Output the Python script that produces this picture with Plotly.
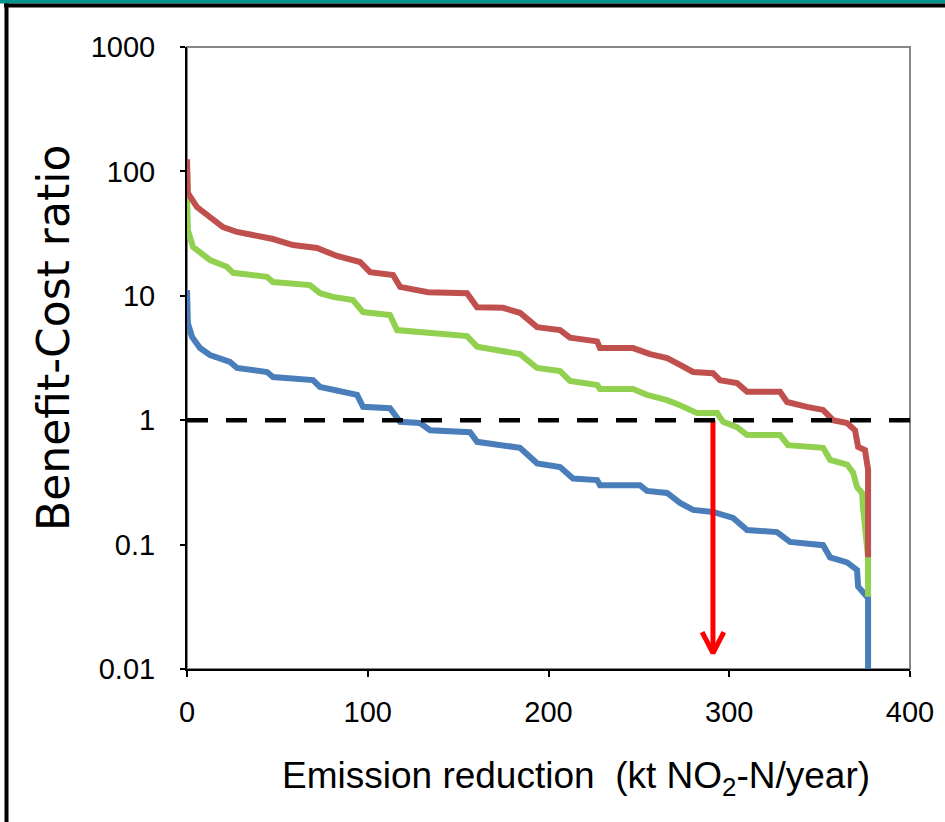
import plotly.graph_objects as go

# ---------------- data ----------------
red_x = [0, 0.5, 5.5, 12.7, 19.9, 27.7, 36.5, 47.6, 58.6, 71.9, 83, 95.7, 101.3, 114, 117.9,
         133.3, 154.9, 160.5, 174.8, 184.2, 193.7, 206.4, 211.9, 226.9, 228.5, 246.8, 256.2,
         265.6, 272.8, 280, 291, 294.9, 304.3, 309.9, 328.1, 332, 343, 351.9, 357.4, 365.2,
         369.6, 371.3, 375.1, 376.8, 376.8]
red_y = [125, 67, 51.7, 43, 35.7, 32.6, 30.8, 28.6, 25.6, 24.2, 20.9, 18.7, 15.5, 14.7, 11.8,
         10.7, 10.5, 8.1, 8.0, 7.3, 5.6, 5.3, 4.6, 4.3, 3.8, 3.8, 3.4,
         3.16, 2.78, 2.44, 2.39, 2.1, 1.99, 1.69, 1.69, 1.40, 1.28, 1.21, 1.0, 0.95,
         0.83, 0.61, 0.575, 0.40, 0.079]

green_x = [0, 0.5, 3.3, 12.7, 22.1, 25.5, 44.3, 47.6, 68, 73.6, 80.8, 91.8, 97.4, 112.3, 116.2,
           133.3, 154.9, 160.5, 171.5, 184.2, 193.7, 206.4, 211.9, 226.9, 228.5, 246.8, 254.5,
           265.6, 272.8, 282.2, 293.3, 296.6, 304.3, 309.9, 328.1, 332.5, 351.9, 355.8, 365.2,
           368.5, 370.7, 373.5, 374, 376.8, 376.8]
green_y = [65, 33.8, 24.7, 19.4, 17.1, 15.3, 14.2, 12.9, 12.2, 10.5, 9.8, 9.25, 7.4, 7.0, 5.3,
           5.0, 4.75, 3.9, 3.66, 3.4, 2.63, 2.48, 2.07, 1.92, 1.78, 1.78, 1.60,
           1.45, 1.32, 1.14, 1.14, 0.97, 0.88, 0.76, 0.76, 0.63, 0.60, 0.48, 0.44,
           0.38, 0.29, 0.26, 0.20, 0.079, 0.038]

blue_x = [0, 0.5, 2.8, 7.2, 12.7, 23.8, 27.7, 44.3, 47.6, 69.7, 73.6, 80.8, 94.1, 97.4, 112.3,
          117.9, 128.9, 134.5, 156.6, 160.5, 173.2, 184.2, 193.7, 206.4, 213.6, 226.9, 228.5,
          250.6, 254.5, 265.6, 272.8, 280, 291, 302.1, 309.9, 326.4, 333.6, 351.9, 355.8,
          365.2, 370.7, 371.3, 376.2, 376.8, 376.8]
blue_y = [11.1, 6.0, 4.67, 3.8, 3.34, 2.94, 2.63, 2.44, 2.22, 2.10, 1.85, 1.75, 1.60, 1.28, 1.25,
          0.97, 0.95, 0.83, 0.80, 0.67, 0.63, 0.60, 0.45, 0.42, 0.34, 0.33, 0.30,
          0.30, 0.27, 0.26, 0.216, 0.19, 0.183, 0.164, 0.131, 0.126, 0.105, 0.099, 0.079,
          0.072, 0.0625, 0.046, 0.038, 0.038, 0.009]

threshold = 1.0
arrow_x = [291, 291]
arrow_y = [1.0, 0.0134]
arrowhead_x = [285, 291, 297]
arrowhead_y = [0.0198, 0.0134, 0.0198]

x_ticks = [0, 100, 200, 300, 400]
y_ticks = [0.01, 0.1, 1, 10, 100, 1000]
y_ticktext = ["0.01", "0.1", "1", "10", "100", "1000"]

RED = "#C0504D"
GREEN = "#92D050"
BLUE = "#4A7EBB"

fig = go.Figure()
for xs, ys, col in [(blue_x, blue_y, BLUE), (green_x, green_y, GREEN), (red_x, red_y, RED)]:
    fig.add_trace(go.Scatter(x=xs, y=ys, mode="lines",
                             line=dict(color=col, width=6), showlegend=False, hoverinfo="skip"))

fig.add_trace(go.Scatter(x=arrow_x, y=arrow_y, mode="lines",
                         line=dict(color="#FF0000", width=5), showlegend=False, hoverinfo="skip"))
fig.add_trace(go.Scatter(x=arrowhead_x, y=arrowhead_y, mode="lines",
                         line=dict(color="#FF0000", width=5), showlegend=False, hoverinfo="skip"))

L, R, T, B = 187, 35, 47, 153
W, H = 945, 822
pw, ph = W - L - R, H - T - B

def px(xp):
    return (xp - L) / pw

def py(yp):
    return (H - B - yp) / ph

shapes = [
    dict(type="rect", xref="paper", yref="paper", x0=0, x1=1, y0=0, y1=1,
         line=dict(color="#868686", width=2), layer="below"),
    dict(type="line", xref="paper", yref="y", x0=0, x1=1, y0=threshold, y1=threshold,
         line=dict(color="black", width=4.5, dash="21px,18px"), layer="above"),
    dict(type="rect", xref="paper", yref="paper", x0=px(0), x1=px(W), y0=py(0), y1=py(3.5),
         fillcolor="#00938F", line=dict(width=0)),
    dict(type="rect", xref="paper", yref="paper", x0=px(4), x1=px(W), y0=py(3.5), y1=py(7.5),
         fillcolor="black", line=dict(width=0)),
    dict(type="rect", xref="paper", yref="paper", x0=px(4.5), x1=px(8.5), y0=py(3.5), y1=py(H),
         fillcolor="black", line=dict(width=0)),
]

tick_font = dict(family="Liberation Sans, Arial, sans-serif", size=29, color="black")

fig.update_layout(
    width=W, height=H,
    margin=dict(l=L, r=R, t=T, b=B),
    paper_bgcolor="white", plot_bgcolor="white",
    shapes=shapes,
    xaxis=dict(range=[0, 400], tickvals=x_ticks, ticks="outside", ticklen=6, tickwidth=2,
               tickcolor="black", showline=True, linecolor="black", linewidth=2,
               showgrid=False, zeroline=False, tickfont=tick_font, ticklabelstandoff=10),
    yaxis=dict(type="log", range=[-2, 3], tickvals=y_ticks, ticktext=y_ticktext,
               ticks="outside", ticklen=5, tickwidth=2, tickcolor="black",
               showline=True, linecolor="black", linewidth=2, showgrid=False,
               zeroline=False, tickfont=tick_font, ticklabelstandoff=19),
    annotations=[
        dict(text="Emission reduction  (kt NO<sub>2</sub>-N/year)", xref="paper", yref="paper",
             x=px(576), y=py(778), showarrow=False, xanchor="center", yanchor="middle",
             font=dict(family="Liberation Sans, Arial", size=37, color="black")),
        dict(text="Benefit-Cost ratio", xref="paper", yref="paper", textangle=-90,
             x=px(53), y=py(338), showarrow=False, xanchor="center", yanchor="middle",
             font=dict(family="DejaVu Sans, Liberation Sans, Arial", size=44, color="black")),
    ],
)

fig.write_html("out.html", config={"displayModeBar": False},
               post_script="document.body.style.margin='0';document.body.style.padding='0';")
